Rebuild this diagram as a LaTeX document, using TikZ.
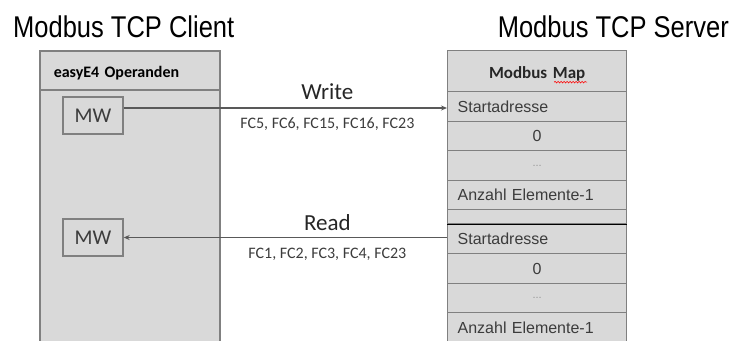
\documentclass[tikz,border=0pt]{standalone}
\usepackage{fontspec}
\setmainfont{Carlito}
\newfontfamily\titlefont[FakeStretch=0.85]{Liberation Sans}
\newfontfamily\cellfont{Liberation Sans}
\usetikzlibrary{arrows.meta, positioning, calc, decorations.pathmorphing}
\definecolor{panelgray}{RGB}{217, 217, 217}
\definecolor{framegray}{RGB}{128, 128, 128}
\definecolor{linegray}{RGB}{89, 89, 89}
\definecolor{textgray}{RGB}{60, 60, 60}
\definecolor{dotgray}{RGB}{150, 150, 150}
\tikzstyle{title} = [font=\titlefont\fontsize{30}{36}\selectfont, inner sep=0pt, text=black]
\tikzstyle{panel} = [rectangle, draw=framegray, fill=panelgray, line width=1.5pt, minimum width=180pt, anchor=north west, inner sep=0pt]
\tikzstyle{operand} = [rectangle, draw=framegray, fill=panelgray, line width=1.3pt, minimum width=60pt, minimum height=37pt, font=\fontsize{21}{25}\selectfont, text=textgray]
\tikzstyle{cell} = [rectangle, draw=framegray, fill=panelgray, line width=1.3pt, minimum width=179pt, minimum height=30pt, inner xsep=10pt, inner ysep=0pt, text width=159pt, anchor=north west, font=\cellfont\fontsize{16}{19}\selectfont, text=textgray]
\tikzstyle{arrow} = [-{Stealth[length=6pt, width=5pt]}, line width=1.3pt, draw=linegray]
\tikzstyle{msgname} = [inner sep=2pt, font=\fontsize{23}{27}\selectfont, text=black!85]
\tikzstyle{msgcodes} = [inner sep=2pt, font=\fontsize{16}{19}\selectfont, text=textgray]

\begin{document}
\begin{tikzpicture}[x=1pt, y=-1pt]
    \useasboundingbox (0,0) rectangle (733,340);
    \clip (0,0) rectangle (733,340);

    % Titles
    \node[title, anchor=base west] (clienttitle) at (13,37) {Modbus TCP Client};
    \node[title, anchor=base east] (servertitle) at (729,37) {Modbus TCP Server};

    % Client panel
    \node[panel, minimum height=39pt, text width=152pt, inner xsep=14pt, text height=18pt, align=left, font=\bfseries\fontsize{16}{19}\selectfont] (clienthead) at (39,50) {easyE4 Operanden};
    \node[panel, minimum height=262pt] (clientbody) at (39,89) {};
    \node[operand] (mwwrite) at (93,115.5) {MW};
    \node[operand] (mwread) at (93,237.5) {MW};

    % Server map
    \node[cell, minimum height=41pt, text height=18pt, align=center, font=\bfseries\fontsize{17}{20}\selectfont, text=black!85] (maphead) at (447,50) {Modbus Map};
    \node[cell] (start1) at (447,91) {Startadresse};
    \node[cell, minimum height=29pt, align=center] (zero1) at (447,121) {0};
    \node[cell, align=center, font=\cellfont\fontsize{11}{13}\selectfont, text=dotgray] (dots1) at (447,150) {...};
    \node[cell, minimum height=29pt] (count1) at (447,180) {Anzahl Elemente-1};
    \node[cell, minimum height=14pt] (gap) at (447,209) {};
    \node[cell] (start2) at (447,223) {Startadresse};
    \node[cell, align=center] (zero2) at (447,253) {0};
    \node[cell, minimum height=29pt, align=center, font=\cellfont\fontsize{11}{13}\selectfont, text=dotgray] (dots2) at (447,283) {...};
    \node[cell] (count2) at (447,312) {Anzahl Elemente-1};
    \draw[black, line width=1.3pt] (gap.south west) -- (gap.south east);
    \draw[red, line width=0.6pt, decorate, decoration={snake, amplitude=0.8pt, segment length=3pt}]
        ([xshift=17pt, yshift=-11pt]maphead.center) -- ([xshift=50pt, yshift=-11pt]maphead.center);

    % Write
    \coordinate (wout) at ([yshift=7.5pt]mwwrite.east);
    \draw[arrow] (wout) -- (wout -| start1.west)
        node[msgname, pos=0.63, above=6pt] (writename) {Write}
        node[msgcodes, pos=0.63, below=7pt] (writecodes) {FC5, FC6, FC15, FC16, FC23};

    % Read
    \draw[arrow] (start2.west |- mwread.east) -- (mwread.east)
        node[msgname, pos=0.37, above=4pt] (readname) {Read}
        node[msgcodes, pos=0.37, below=8pt] (readcodes) {FC1, FC2, FC3, FC4, FC23};
\end{tikzpicture}
\end{document}
